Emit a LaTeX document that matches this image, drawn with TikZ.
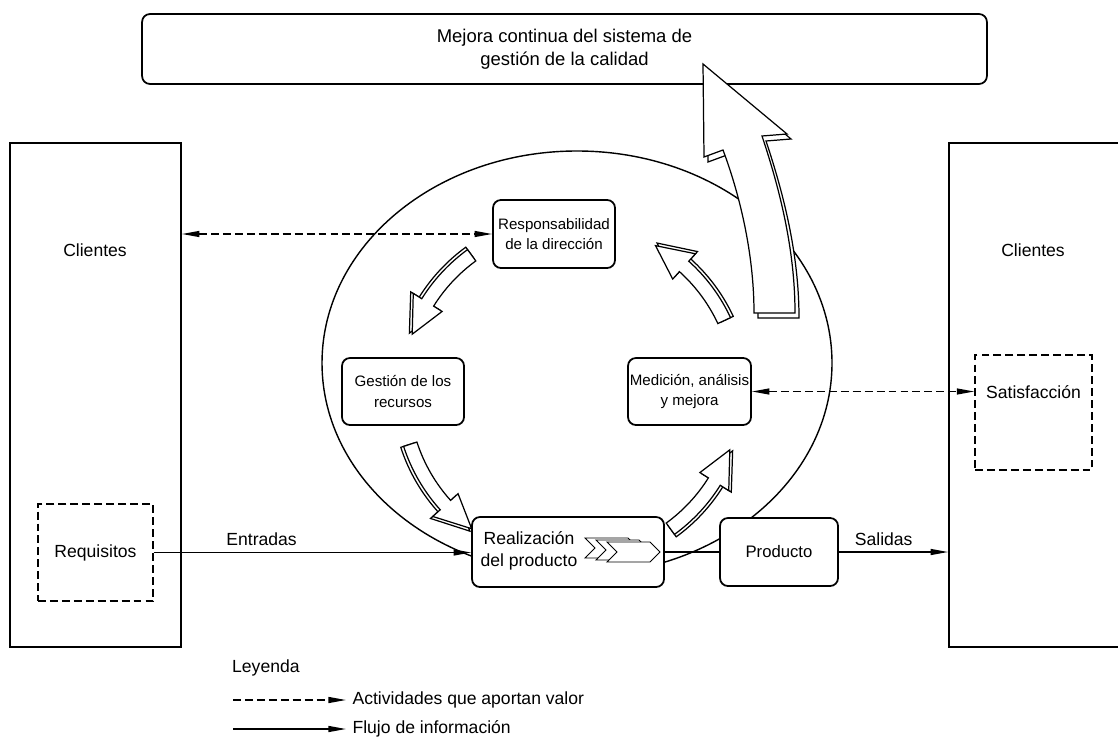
\documentclass[tikz,border=0pt]{standalone}
\usepackage{fontspec}
\setmainfont{Liberation Sans}
\usetikzlibrary{arrows.meta}

% flecha curva del ciclo: angulo cola, angulo punta, radio
\newcommand{\flechaciclo}[3]{%
  \pgfmathsetmacro\fbase{#2-12*sign(#2-#1)}%
  \pgfmathsetmacro\rin{#3-7}%
  \pgfmathsetmacro\rout{#3+7}%
  \pgfmathsetmacro\rbin{#3-17}%
  \pgfmathsetmacro\rbout{#3+17}%
  \filldraw[bloque] (#1:\rin) arc[start angle=#1, end angle=\fbase, radius=\rin]
    -- (\fbase:\rbin) -- (#2:#3) -- (\fbase:\rbout) -- (\fbase:\rout)
    arc[start angle=\fbase, end angle=#1, radius=\rout] -- cycle;%
}
\newcommand{\ciclo}[2]{\flechaciclo{#1}{#2}{172}\flechaciclo{#1}{#2}{169}}
% flecha pequena de proceso, esquina superior izquierda
\newcommand{\chevron}[2]{%
  \filldraw[bloque, line width=0.5pt] (#1,#2) -- ++(43,0) -- ++(10,10) -- ++(-10,10) -- ++(-43,0) -- ++(10,-10) -- cycle;%
}

\begin{document}
\begin{tikzpicture}[x=0.02cm, y=-0.02cm,
  texto/.style={font=\fontsize{10}{12.4}\selectfont, align=center},
  caja/.style={texto, draw, line width=1pt, rounded corners=4.5pt, fill=white, inner sep=0pt},
  proceso/.style={caja, font=\fontsize{8.6}{11.8}\selectfont},
  marco/.style={draw, line width=1pt, fill=white},
  cajapunt/.style={texto, draw, line width=0.8pt, dash pattern=on 4.5pt off 2.3pt, fill=white, inner sep=0pt},
  bloque/.style={draw, line width=0.7pt, fill=white, line join=miter},
  flujo/.style={line width=0.8pt, -{Triangle[length=10pt, width=3.4pt]}},
  valor/.style={line width=0.8pt, dash pattern=on 4.5pt off 2.3pt,
    {Triangle[length=10pt, width=3.4pt]}-{Triangle[length=10pt, width=3.4pt]}}]

\useasboundingbox (0,0) rectangle (1118,740);

% Mejora continua
\node[caja, minimum width=16.9cm, minimum height=1.4cm, font=\fontsize{10.5}{13}\selectfont] (mejora) at (564.5,49)
  {Mejora continua del sistema de\\gestión de la calidad};

% circulo
\draw[line width=0.8pt] (577,363) ellipse[x radius=255, y radius=212];

% Clientes
\node[marco, minimum width=3.42cm, minimum height=10.08cm] (cliL) at (95.5,395) {};
\node[marco, minimum width=3.4cm, minimum height=10.08cm] (cliR) at (1034,395) {};
\node[texto] (txtcliL) at (95,250) {Clientes};
\node[texto] (txtcliR) at (1033,250) {Clientes};
\node[cajapunt, minimum width=2.3cm, minimum height=1.94cm] (requ) at (95.5,552.5) {Requisitos};
\node[cajapunt, minimum width=2.34cm, minimum height=2.3cm] (satis) at (1033.5,412.5) {};
\node[texto] (txtsatis) at (1033.5,392) {Satisfacción};

% flecha grande hacia la mejora
\begin{scope}[shift={(4,5)}]
\filldraw[bloque] (754,313) .. controls (754,250) and (738,190) .. (723,150) -- (704,157)
  -- (703,64) -- (787,134) -- (762,136) .. controls (780,190) and (795,250) .. (795,313) -- cycle;
\end{scope}
\filldraw[bloque] (754,313) .. controls (754,250) and (738,190) .. (723,150) -- (704,157)
  -- (703,64) -- (787,134) -- (762,136) .. controls (780,190) and (795,250) .. (795,313) -- cycle;

% flechas del ciclo
\begin{scope}[shift={(571,392)}]
\ciclo{-126}{-160}
\ciclo{-198}{-234}
\ciclo{-306}{-340}
\ciclo{-25}{-60}
\end{scope}

% procesos
\node[proceso, minimum width=2.44cm, minimum height=1.36cm] (resp) at (554,234)
  {Responsabilidad\\de la dirección};
\node[proceso, minimum width=2.44cm, minimum height=1.34cm] (gest) at (403,391.5)
  {Gestión de los\\recursos};
\node[proceso, minimum width=2.46cm, minimum height=1.34cm] (medi) at (689.5,391.5)
  {Medición, análisis\\y mejora};
\node[caja, minimum width=3.84cm, minimum height=1.4cm] (real) at (568,552) {};
\node[texto] (txtreal) at (529,551) {Realización\\del producto};
\node[caja, minimum width=2.36cm, minimum height=1.36cm, font=\fontsize{9.5}{12}\selectfont] (prod) at (779,552) {Producto};

\chevron{585}{538}
\chevron{596}{540}
\chevron{607}{542}

% conexiones
\draw[valor] (resp.west -| cliL.east) -- (resp.west);
\draw[valor] (medi.east) -- (medi.east -| satis.west);
\draw[flujo] (requ.east) -- node[texto, above, pos=0.34] (entradas) {Entradas} (requ.east -| real.west);
\draw[line width=0.8pt] (real.east) -- (prod.west);
\draw[flujo] (prod.east) -- node[texto, above, pos=0.41] (salidas) {Salidas} (prod.east -| cliR.west);

% leyenda
\node[texto, anchor=west] (leyenda) at (226,668) {Leyenda};
\coordinate (lva) at (233,700);
\coordinate (lvb) at (346,700);
\coordinate (lfa) at (233,729);
\coordinate (lfb) at (346,729);
\draw[line width=0.8pt, dash pattern=on 4.5pt off 2.3pt, -{Triangle[length=10pt, width=3.4pt]}] (lva) -- (lvb)
  node[texto, right] (legvalor) {Actividades que aportan valor};
\draw[flujo] (lfa) -- (lfb) node[texto, right] (legflujo) {Flujo de información};

\end{tikzpicture}
\end{document}
